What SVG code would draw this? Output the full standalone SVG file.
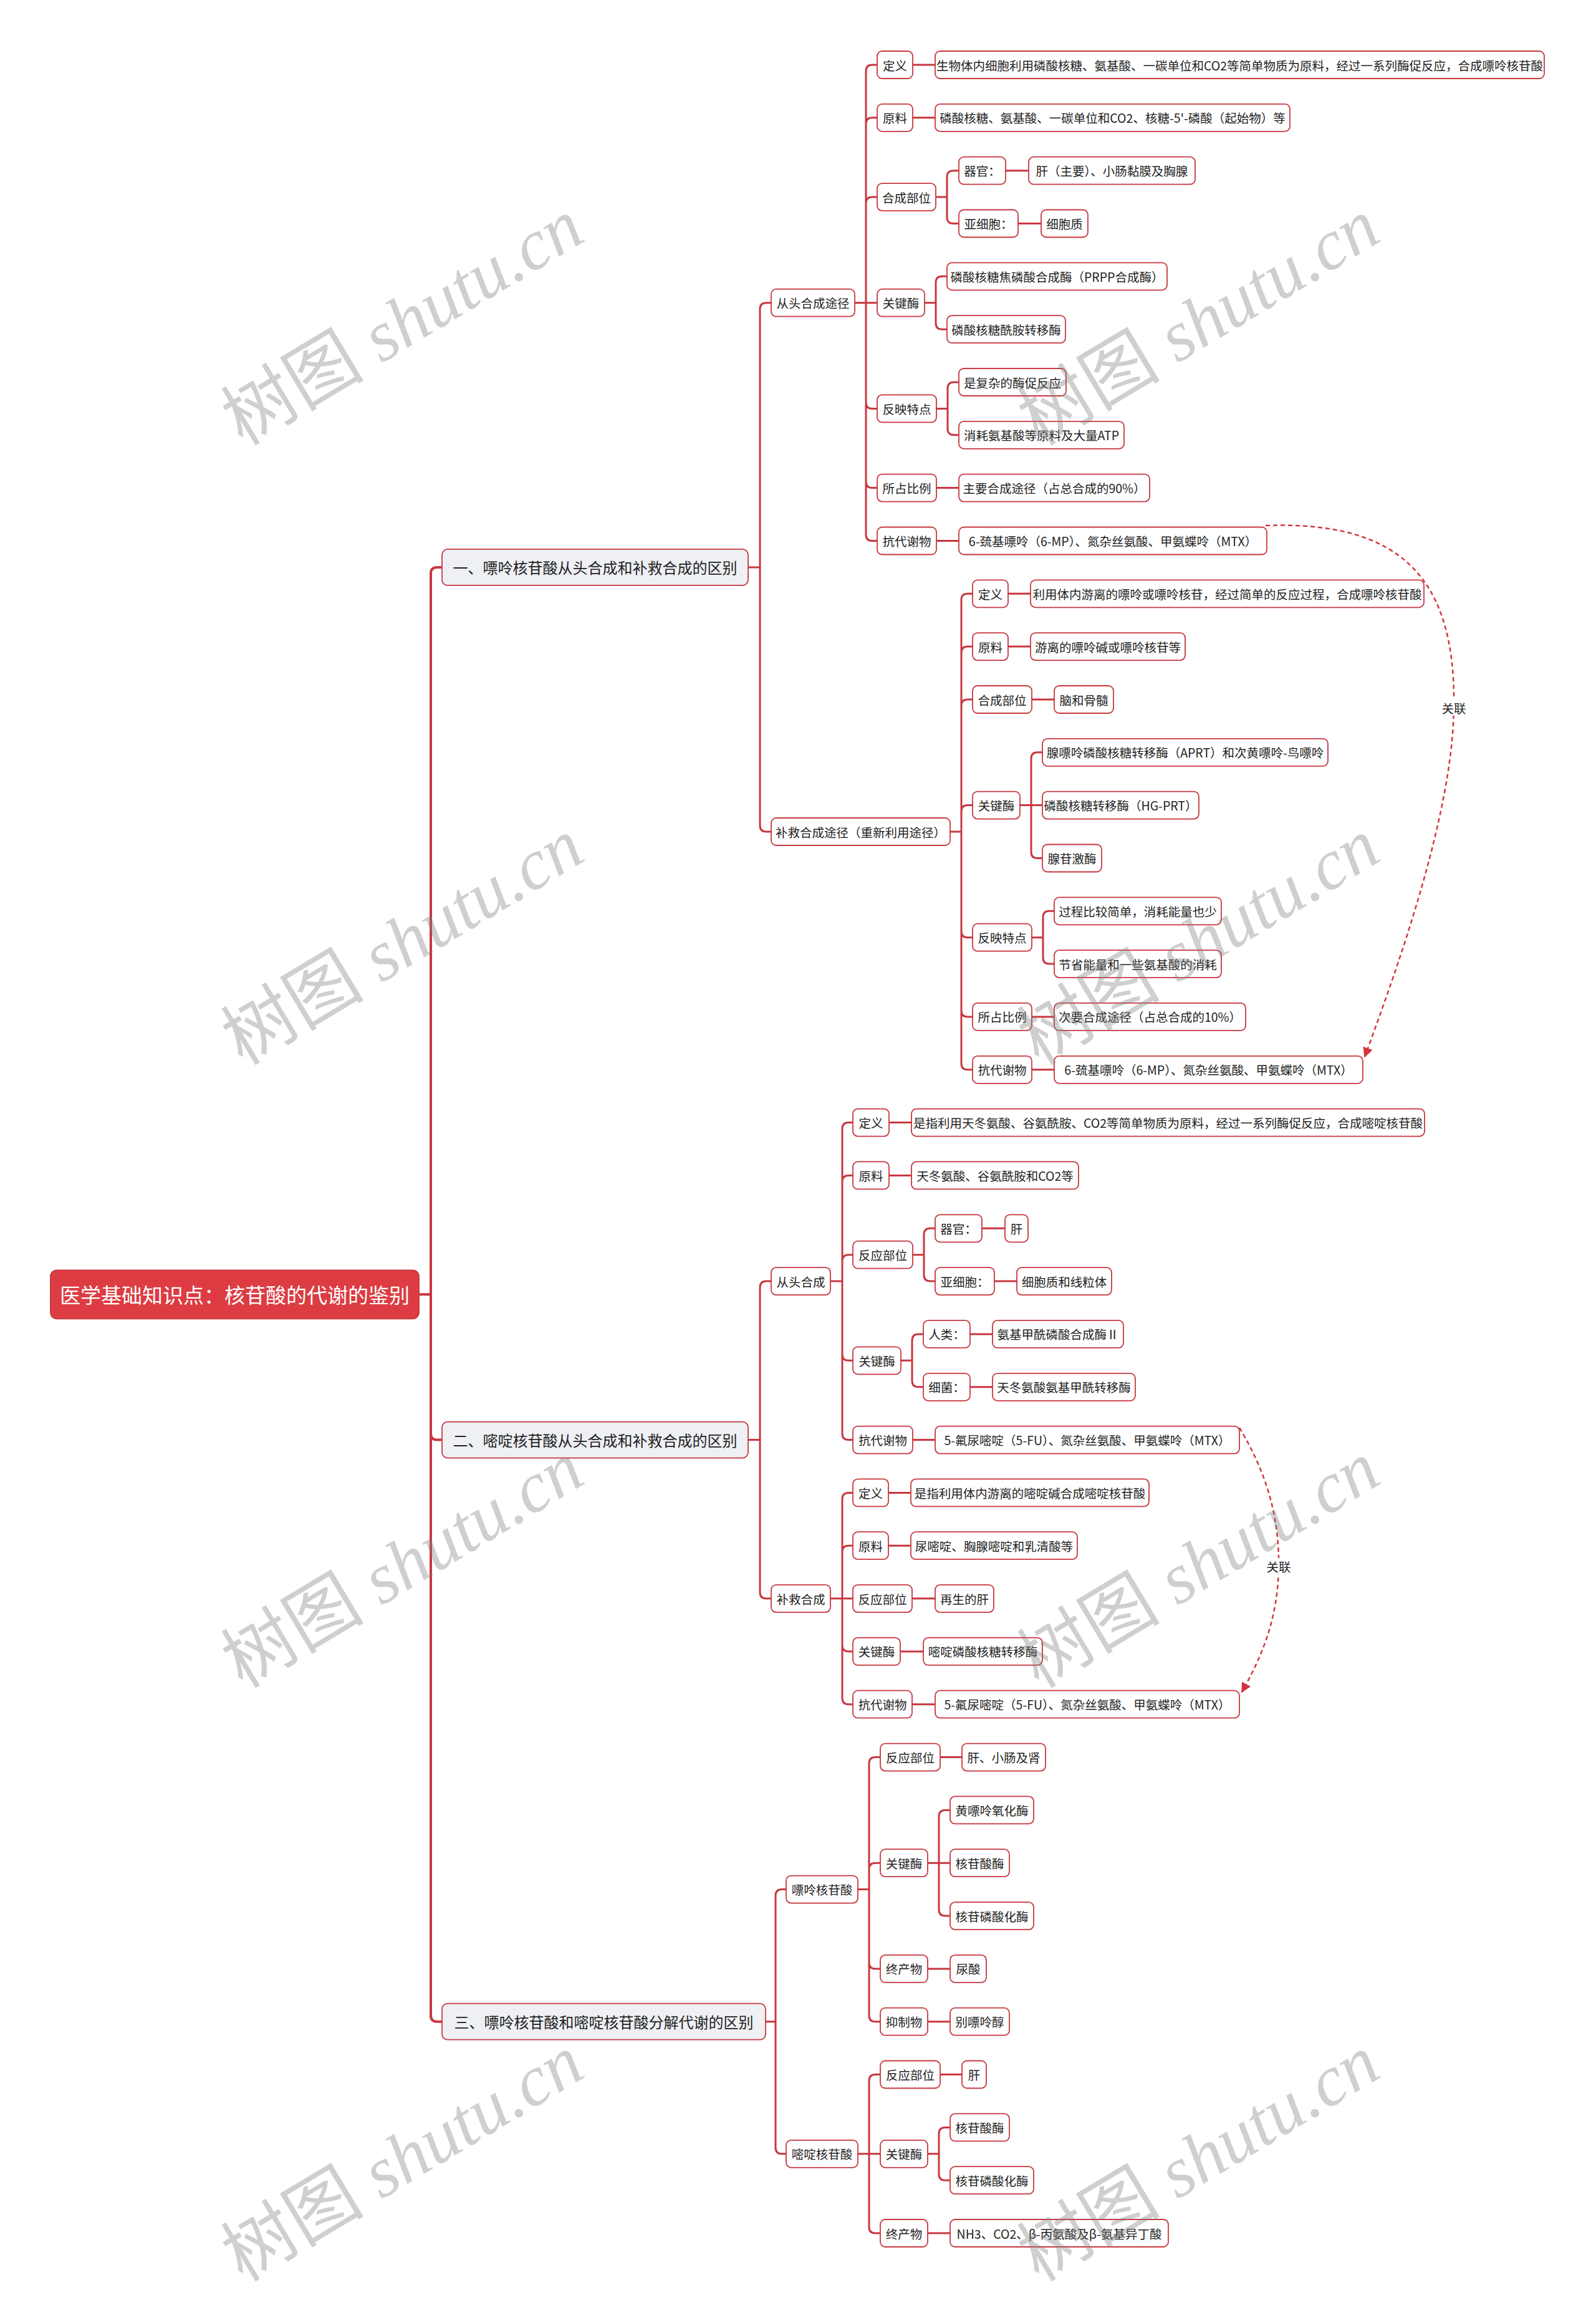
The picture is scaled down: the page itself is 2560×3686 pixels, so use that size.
<svg xmlns="http://www.w3.org/2000/svg" width="2560" height="3686" viewBox="0 0 2560 3686">
<style>
.n rect{fill:#ffffff;stroke:#c8373f;stroke-width:1.8}
.n text{font-family:"Noto Sans CJK SC","Noto Sans",sans-serif;font-size:19.5px;fill:#222;text-anchor:middle;dominant-baseline:central}
.l1 rect{fill:#eef0f4}
.l1 text{font-size:24px}
.root rect{fill:#dc3c42;stroke:#c8373f}
.root text{fill:#ffffff;font-size:33px}
.c{fill:none;stroke:#c8373f;stroke-width:3;stroke-linecap:round}
.c0{stroke-width:4}
.rel{fill:none;stroke:#d2353c;stroke-width:2.5;stroke-dasharray:7 5}
.rl{font-family:"Noto Sans CJK SC",sans-serif;font-size:19.5px;fill:#222;text-anchor:middle;dominant-baseline:central}
.wm{font-family:"Liberation Serif","Noto Sans CJK SC",serif;font-size:115px;fill:#808080;fill-opacity:0.38;text-anchor:middle;dominant-baseline:central}
</style>
<defs>
<marker id="arr" viewBox="0 0 10 10" refX="9" refY="5" markerUnits="userSpaceOnUse" markerWidth="18" markerHeight="16" orient="auto">
<path d="M0,0 L10,5 L0,10 z" fill="#d2353c"/>
</marker>
</defs>
<rect width="2560" height="3686" fill="#ffffff"/>
<g id="connectors">
<path class="c c0" d="M672 2076.3 H691 M691 2076.3 V919.9 Q691 909.9 701 909.9 H709 M691 2076.3 V2299.6 Q691 2309.6 701 2309.6 H709 M691 2076.3 V3232.7 Q691 3242.7 701 3242.7 H709"/>
<path class="c" d="M1200 909.9 H1219 M1219 909.9 V495.7 Q1219 485.7 1229 485.7 H1237 M1219 909.9 V1324 Q1219 1334 1229 1334 H1237"/>
<path class="c" d="M1371 485.7 H1407 M1389 485.7 V114 Q1389 104 1399 104 H1407 M1389 485.7 V198.8 Q1389 188.8 1399 188.8 H1407 M1389 485.7 V326.1 Q1389 316.1 1399 316.1 H1407 M1389 485.7 V645.4 Q1389 655.4 1399 655.4 H1407 M1389 485.7 V772.6 Q1389 782.6 1399 782.6 H1407 M1389 485.7 V857.5 Q1389 867.5 1399 867.5 H1407"/>
<path class="c" d="M1464 104 H1500 M1464 188.8 H1500 M1501 316.1 H1519 M1519 316.1 V283.7 Q1519 273.7 1529 273.7 H1538 M1519 316.1 V348.5 Q1519 358.5 1529 358.5 H1538 M1613 273.7 H1650 M1633 358.5 H1670 M1483 485.7 H1501 M1501 485.7 V453.3 Q1501 443.3 1511 443.3 H1519 M1501 485.7 V518.2 Q1501 528.2 1511 528.2 H1519 M1502 655.4 H1520 M1520 655.4 V623 Q1520 613 1530 613 H1538 M1520 655.4 V687.8 Q1520 697.8 1530 697.8 H1538 M1502 782.6 H1538 M1502 867.5 H1538"/>
<path class="c" d="M1524 1334 H1542 M1542 1334 V962.3 Q1542 952.3 1552 952.3 H1560 M1542 1334 V1047.1 Q1542 1037.1 1552 1037.1 H1560 M1542 1334 V1132 Q1542 1122 1552 1122 H1560 M1542 1334 V1301.6 Q1542 1291.6 1552 1291.6 H1560 M1542 1334 V1493.7 Q1542 1503.7 1552 1503.7 H1560 M1542 1334 V1620.9 Q1542 1630.9 1552 1630.9 H1560 M1542 1334 V1705.8 Q1542 1715.8 1552 1715.8 H1560"/>
<path class="c" d="M1617 952.3 H1653 M1617 1037.1 H1653 M1655 1122 H1691 M1636 1291.6 H1672 M1654 1291.6 V1216.8 Q1654 1206.8 1664 1206.8 H1672 M1654 1291.6 V1366.5 Q1654 1376.5 1664 1376.5 H1672 M1655 1503.7 H1673 M1673 1503.7 V1471.3 Q1673 1461.3 1683 1461.3 H1691 M1673 1503.7 V1536.1 Q1673 1546.1 1683 1546.1 H1691 M1655 1630.9 H1691 M1655 1715.8 H1691"/>
<path class="c" d="M1200 2309.6 H1219 M1219 2309.6 V2065.1 Q1219 2055.1 1229 2055.1 H1237 M1219 2309.6 V2554.1 Q1219 2564.1 1229 2564.1 H1237"/>
<path class="c" d="M1332 2055.1 H1351 M1351 2055.1 V1810.6 Q1351 1800.6 1361 1800.6 H1368 M1351 2055.1 V1895.4 Q1351 1885.4 1361 1885.4 H1368 M1351 2055.1 V2022.7 Q1351 2012.7 1361 2012.7 H1368 M1351 2055.1 V2172.3 Q1351 2182.3 1361 2182.3 H1368 M1351 2055.1 V2299.6 Q1351 2309.6 1361 2309.6 H1368"/>
<path class="c" d="M1426 1800.6 H1462 M1426 1885.4 H1462 M1464 2012.7 H1482 M1482 2012.7 V1980.3 Q1482 1970.3 1492 1970.3 H1500 M1482 2012.7 V2045.1 Q1482 2055.1 1492 2055.1 H1500 M1575 1970.3 H1612 M1595 2055.1 H1631 M1445 2182.3 H1463 M1463 2182.3 V2149.9 Q1463 2139.9 1473 2139.9 H1481 M1463 2182.3 V2214.8 Q1463 2224.8 1473 2224.8 H1481 M1556 2139.9 H1592 M1556 2224.8 H1592 M1464 2309.6 H1500"/>
<path class="c" d="M1332 2564.1 H1368 M1351 2564.1 V2404.4 Q1351 2394.4 1361 2394.4 H1368 M1351 2564.1 V2489.2 Q1351 2479.2 1361 2479.2 H1368 M1351 2564.1 V2638.9 Q1351 2648.9 1361 2648.9 H1368 M1351 2564.1 V2723.7 Q1351 2733.7 1361 2733.7 H1368 M1425 2394.4 H1461 M1425 2479.2 H1461 M1463 2564.1 H1500 M1444 2648.9 H1481 M1463 2733.7 H1500"/>
<path class="c" d="M1228 3242.7 H1244 M1244 3242.7 V3040.6 Q1244 3030.6 1254 3030.6 H1261 M1244 3242.7 V3444.8 Q1244 3454.8 1254 3454.8 H1261"/>
<path class="c" d="M1376 3030.6 H1394 M1394 3030.6 V2828.6 Q1394 2818.6 1404 2818.6 H1412 M1394 3030.6 V2998.2 Q1394 2988.2 1404 2988.2 H1412 M1394 3030.6 V3147.9 Q1394 3157.9 1404 3157.9 H1412 M1394 3030.6 V3232.7 Q1394 3242.7 1404 3242.7 H1412 M1508 2818.6 H1543 M1488 2988.2 H1524 M1506 2988.2 V2913.4 Q1506 2903.4 1516 2903.4 H1524 M1506 2988.2 V3063.1 Q1506 3073.1 1516 3073.1 H1524 M1488 3157.9 H1524 M1488 3242.7 H1524"/>
<path class="c" d="M1376 3454.8 H1412 M1394 3454.8 V3337.5 Q1394 3327.5 1404 3327.5 H1412 M1394 3454.8 V3572 Q1394 3582 1404 3582 H1412 M1508 3327.5 H1543 M1488 3454.8 H1506 M1506 3454.8 V3422.4 Q1506 3412.4 1516 3412.4 H1524 M1506 3454.8 V3487.2 Q1506 3497.2 1516 3497.2 H1524 M1488 3582 H1524"/>
</g>
<g id="root" class="n root"><rect x="81" y="2037.3" width="591" height="78" rx="10"/><text x="376.5" y="2076.3">医学基础知识点：核苷酸的代谢的鉴别</text></g>
<g id="L1a" class="n l1"><rect x="709" y="880.9" width="491" height="58" rx="9"/><text x="954.5" y="909.9">一、嘌呤核苷酸从头合成和补救合成的区别</text></g>
<g id="L1b" class="n l1"><rect x="709" y="2280.6" width="491" height="58" rx="9"/><text x="954.5" y="2309.6">二、嘧啶核苷酸从头合成和补救合成的区别</text></g>
<g id="L1c" class="n l1"><rect x="709" y="3213.7" width="519" height="58" rx="9"/><text x="968.5" y="3242.7">三、嘌呤核苷酸和嘧啶核苷酸分解代谢的区别</text></g>
<g id="A1" class="n"><rect x="1237" y="463.7" width="134" height="44" rx="8"/><text x="1304" y="485.7">从头合成途径</text></g>
<g id="A2" class="n"><rect x="1237" y="1312" width="287" height="44" rx="8"/><text x="1380.5" y="1334">补救合成途径（重新利用途径）</text></g>
<g id="a1" class="n"><rect x="1407" y="82" width="57" height="44" rx="8"/><text x="1435.5" y="104">定义</text></g>
<g id="a1v" class="n"><rect x="1500" y="82" width="977" height="44" rx="8"/><text x="1988.5" y="104">生物体内细胞利用磷酸核糖、氨基酸、一碳单位和CO2等简单物质为原料，经过一系列酶促反应，合成嘌呤核苷酸</text></g>
<g id="a2" class="n"><rect x="1407" y="166.8" width="57" height="44" rx="8"/><text x="1435.5" y="188.8">原料</text></g>
<g id="a2v" class="n"><rect x="1500" y="166.8" width="569" height="44" rx="8"/><text x="1784.5" y="188.8">磷酸核糖、氨基酸、一碳单位和CO2、核糖-5'-磷酸（起始物）等</text></g>
<g id="a3" class="n"><rect x="1407" y="294.1" width="94" height="44" rx="8"/><text x="1454" y="316.1">合成部位</text></g>
<g id="a3a" class="n"><rect x="1538" y="251.7" width="75" height="44" rx="8"/><text x="1575.5" y="273.7">器官：</text></g>
<g id="a3av" class="n"><rect x="1650" y="251.7" width="267" height="44" rx="8"/><text x="1783.5" y="273.7">肝（主要）、小肠黏膜及胸腺</text></g>
<g id="a3b" class="n"><rect x="1538" y="336.5" width="95" height="44" rx="8"/><text x="1585.5" y="358.5">亚细胞：</text></g>
<g id="a3bv" class="n"><rect x="1670" y="336.5" width="75" height="44" rx="8"/><text x="1707.5" y="358.5">细胞质</text></g>
<g id="a4" class="n"><rect x="1407" y="463.7" width="76" height="44" rx="8"/><text x="1445" y="485.7">关键酶</text></g>
<g id="a4a" class="n"><rect x="1519" y="421.3" width="353" height="44" rx="8"/><text x="1695.5" y="443.3">磷酸核糖焦磷酸合成酶（PRPP合成酶）</text></g>
<g id="a4b" class="n"><rect x="1519" y="506.2" width="190" height="44" rx="8"/><text x="1614" y="528.2">磷酸核糖酰胺转移酶</text></g>
<g id="a5" class="n"><rect x="1407" y="633.4" width="95" height="44" rx="8"/><text x="1454.5" y="655.4">反映特点</text></g>
<g id="a5a" class="n"><rect x="1538" y="591" width="172" height="44" rx="8"/><text x="1624" y="613">是复杂的酶促反应</text></g>
<g id="a5b" class="n"><rect x="1538" y="675.8" width="265" height="44" rx="8"/><text x="1670.5" y="697.8">消耗氨基酸等原料及大量ATP</text></g>
<g id="a6" class="n"><rect x="1407" y="760.6" width="95" height="44" rx="8"/><text x="1454.5" y="782.6">所占比例</text></g>
<g id="a6v" class="n"><rect x="1538" y="760.6" width="306" height="44" rx="8"/><text x="1691" y="782.6">主要合成途径（占总合成的90%）</text></g>
<g id="a7" class="n"><rect x="1407" y="845.5" width="95" height="44" rx="8"/><text x="1454.5" y="867.5">抗代谢物</text></g>
<g id="a7v" class="n"><rect x="1538" y="845.5" width="494" height="44" rx="8"/><text x="1785" y="867.5">6-巯基嘌呤（6-MP）、氮杂丝氨酸、甲氨蝶呤（MTX）</text></g>
<g id="b1" class="n"><rect x="1560" y="930.3" width="57" height="44" rx="8"/><text x="1588.5" y="952.3">定义</text></g>
<g id="b1v" class="n"><rect x="1653" y="930.3" width="631" height="44" rx="8"/><text x="1968.5" y="952.3">利用体内游离的嘌呤或嘌呤核苷，经过简单的反应过程，合成嘌呤核苷酸</text></g>
<g id="b2" class="n"><rect x="1560" y="1015.1" width="57" height="44" rx="8"/><text x="1588.5" y="1037.1">原料</text></g>
<g id="b2v" class="n"><rect x="1653" y="1015.1" width="248" height="44" rx="8"/><text x="1777" y="1037.1">游离的嘌呤碱或嘌呤核苷等</text></g>
<g id="b3" class="n"><rect x="1560" y="1100" width="95" height="44" rx="8"/><text x="1607.5" y="1122">合成部位</text></g>
<g id="b3v" class="n"><rect x="1691" y="1100" width="95" height="44" rx="8"/><text x="1738.5" y="1122">脑和骨髓</text></g>
<g id="b4" class="n"><rect x="1560" y="1269.6" width="76" height="44" rx="8"/><text x="1598" y="1291.6">关键酶</text></g>
<g id="b4a" class="n"><rect x="1672" y="1184.8" width="458" height="44" rx="8"/><text x="1901" y="1206.8">腺嘌呤磷酸核糖转移酶（APRT）和次黄嘌呤-鸟嘌呤</text></g>
<g id="b4b" class="n"><rect x="1672" y="1269.6" width="251" height="44" rx="8"/><text x="1797.5" y="1291.6">磷酸核糖转移酶（HG-PRT）</text></g>
<g id="b4c" class="n"><rect x="1672" y="1354.5" width="95" height="44" rx="8"/><text x="1719.5" y="1376.5">腺苷激酶</text></g>
<g id="b5" class="n"><rect x="1560" y="1481.7" width="95" height="44" rx="8"/><text x="1607.5" y="1503.7">反映特点</text></g>
<g id="b5a" class="n"><rect x="1691" y="1439.3" width="268" height="44" rx="8"/><text x="1825" y="1461.3">过程比较简单，消耗能量也少</text></g>
<g id="b5b" class="n"><rect x="1691" y="1524.1" width="268" height="44" rx="8"/><text x="1825" y="1546.1">节省能量和一些氨基酸的消耗</text></g>
<g id="b6" class="n"><rect x="1560" y="1608.9" width="95" height="44" rx="8"/><text x="1607.5" y="1630.9">所占比例</text></g>
<g id="b6v" class="n"><rect x="1691" y="1608.9" width="307" height="44" rx="8"/><text x="1844.5" y="1630.9">次要合成途径（占总合成的10%）</text></g>
<g id="b7" class="n"><rect x="1560" y="1693.8" width="95" height="44" rx="8"/><text x="1607.5" y="1715.8">抗代谢物</text></g>
<g id="b7v" class="n"><rect x="1691" y="1693.8" width="495" height="44" rx="8"/><text x="1938.5" y="1715.8">6-巯基嘌呤（6-MP）、氮杂丝氨酸、甲氨蝶呤（MTX）</text></g>
<g id="B1" class="n"><rect x="1237" y="2033.1" width="95" height="44" rx="8"/><text x="1284.5" y="2055.1">从头合成</text></g>
<g id="c1" class="n"><rect x="1368" y="1778.6" width="58" height="44" rx="8"/><text x="1397" y="1800.6">定义</text></g>
<g id="c1v" class="n"><rect x="1462" y="1778.6" width="823" height="44" rx="8"/><text x="1873.5" y="1800.6">是指利用天冬氨酸、谷氨酰胺、CO2等简单物质为原料，经过一系列酶促反应，合成嘧啶核苷酸</text></g>
<g id="c2" class="n"><rect x="1368" y="1863.4" width="58" height="44" rx="8"/><text x="1397" y="1885.4">原料</text></g>
<g id="c2v" class="n"><rect x="1462" y="1863.4" width="268" height="44" rx="8"/><text x="1596" y="1885.4">天冬氨酸、谷氨酰胺和CO2等</text></g>
<g id="c3" class="n"><rect x="1368" y="1990.7" width="96" height="44" rx="8"/><text x="1416" y="2012.7">反应部位</text></g>
<g id="c3a" class="n"><rect x="1500" y="1948.3" width="75" height="44" rx="8"/><text x="1537.5" y="1970.3">器官：</text></g>
<g id="c3av" class="n"><rect x="1612" y="1948.3" width="37" height="44" rx="8"/><text x="1630.5" y="1970.3">肝</text></g>
<g id="c3b" class="n"><rect x="1500" y="2033.1" width="95" height="44" rx="8"/><text x="1547.5" y="2055.1">亚细胞：</text></g>
<g id="c3bv" class="n"><rect x="1631" y="2033.1" width="152" height="44" rx="8"/><text x="1707" y="2055.1">细胞质和线粒体</text></g>
<g id="c4" class="n"><rect x="1368" y="2160.3" width="77" height="44" rx="8"/><text x="1406.5" y="2182.3">关键酶</text></g>
<g id="c4a" class="n"><rect x="1481" y="2117.9" width="75" height="44" rx="8"/><text x="1518.5" y="2139.9">人类：</text></g>
<g id="c4av" class="n"><rect x="1592" y="2117.9" width="210" height="44" rx="8"/><text x="1697" y="2139.9">氨基甲酰磷酸合成酶Ⅱ</text></g>
<g id="c4b" class="n"><rect x="1481" y="2202.8" width="75" height="44" rx="8"/><text x="1518.5" y="2224.8">细菌：</text></g>
<g id="c4bv" class="n"><rect x="1592" y="2202.8" width="229" height="44" rx="8"/><text x="1706.5" y="2224.8">天冬氨酸氨基甲酰转移酶</text></g>
<g id="c5" class="n"><rect x="1368" y="2287.6" width="96" height="44" rx="8"/><text x="1416" y="2309.6">抗代谢物</text></g>
<g id="c5v" class="n"><rect x="1500" y="2287.6" width="488" height="44" rx="8"/><text x="1744" y="2309.6">5-氟尿嘧啶（5-FU）、氮杂丝氨酸、甲氨蝶呤（MTX）</text></g>
<g id="B2" class="n"><rect x="1237" y="2542.1" width="95" height="44" rx="8"/><text x="1284.5" y="2564.1">补救合成</text></g>
<g id="d1" class="n"><rect x="1368" y="2372.4" width="57" height="44" rx="8"/><text x="1396.5" y="2394.4">定义</text></g>
<g id="d1v" class="n"><rect x="1461" y="2372.4" width="382" height="44" rx="8"/><text x="1652" y="2394.4">是指利用体内游离的嘧啶碱合成嘧啶核苷酸</text></g>
<g id="d2" class="n"><rect x="1368" y="2457.2" width="57" height="44" rx="8"/><text x="1396.5" y="2479.2">原料</text></g>
<g id="d2v" class="n"><rect x="1461" y="2457.2" width="267" height="44" rx="8"/><text x="1594.5" y="2479.2">尿嘧啶、胸腺嘧啶和乳清酸等</text></g>
<g id="d3" class="n"><rect x="1368" y="2542.1" width="95" height="44" rx="8"/><text x="1415.5" y="2564.1">反应部位</text></g>
<g id="d3v" class="n"><rect x="1500" y="2542.1" width="94" height="44" rx="8"/><text x="1547" y="2564.1">再生的肝</text></g>
<g id="d4" class="n"><rect x="1368" y="2626.9" width="76" height="44" rx="8"/><text x="1406" y="2648.9">关键酶</text></g>
<g id="d4v" class="n"><rect x="1481" y="2626.9" width="191" height="44" rx="8"/><text x="1576.5" y="2648.9">嘧啶磷酸核糖转移酶</text></g>
<g id="d5" class="n"><rect x="1368" y="2711.7" width="95" height="44" rx="8"/><text x="1415.5" y="2733.7">抗代谢物</text></g>
<g id="d5v" class="n"><rect x="1500" y="2711.7" width="488" height="44" rx="8"/><text x="1744" y="2733.7">5-氟尿嘧啶（5-FU）、氮杂丝氨酸、甲氨蝶呤（MTX）</text></g>
<g id="C1" class="n"><rect x="1261" y="3008.6" width="115" height="44" rx="8"/><text x="1318.5" y="3030.6">嘌呤核苷酸</text></g>
<g id="e1" class="n"><rect x="1412" y="2796.6" width="96" height="44" rx="8"/><text x="1460" y="2818.6">反应部位</text></g>
<g id="e1v" class="n"><rect x="1543" y="2796.6" width="134" height="44" rx="8"/><text x="1610" y="2818.6">肝、小肠及肾</text></g>
<g id="e2" class="n"><rect x="1412" y="2966.2" width="76" height="44" rx="8"/><text x="1450" y="2988.2">关键酶</text></g>
<g id="e2a" class="n"><rect x="1524" y="2881.4" width="134" height="44" rx="8"/><text x="1591" y="2903.4">黄嘌呤氧化酶</text></g>
<g id="e2b" class="n"><rect x="1524" y="2966.2" width="95" height="44" rx="8"/><text x="1571.5" y="2988.2">核苷酸酶</text></g>
<g id="e2c" class="n"><rect x="1524" y="3051.1" width="134" height="44" rx="8"/><text x="1591" y="3073.1">核苷磷酸化酶</text></g>
<g id="e3" class="n"><rect x="1412" y="3135.9" width="76" height="44" rx="8"/><text x="1450" y="3157.9">终产物</text></g>
<g id="e3v" class="n"><rect x="1524" y="3135.9" width="58" height="44" rx="8"/><text x="1553" y="3157.9">尿酸</text></g>
<g id="e4" class="n"><rect x="1412" y="3220.7" width="76" height="44" rx="8"/><text x="1450" y="3242.7">抑制物</text></g>
<g id="e4v" class="n"><rect x="1524" y="3220.7" width="95" height="44" rx="8"/><text x="1571.5" y="3242.7">别嘌呤醇</text></g>
<g id="C2" class="n"><rect x="1261" y="3432.8" width="115" height="44" rx="8"/><text x="1318.5" y="3454.8">嘧啶核苷酸</text></g>
<g id="f1" class="n"><rect x="1412" y="3305.5" width="96" height="44" rx="8"/><text x="1460" y="3327.5">反应部位</text></g>
<g id="f1v" class="n"><rect x="1543" y="3305.5" width="39" height="44" rx="8"/><text x="1562.5" y="3327.5">肝</text></g>
<g id="f2" class="n"><rect x="1412" y="3432.8" width="76" height="44" rx="8"/><text x="1450" y="3454.8">关键酶</text></g>
<g id="f2a" class="n"><rect x="1524" y="3390.4" width="95" height="44" rx="8"/><text x="1571.5" y="3412.4">核苷酸酶</text></g>
<g id="f2b" class="n"><rect x="1524" y="3475.2" width="134" height="44" rx="8"/><text x="1591" y="3497.2">核苷磷酸化酶</text></g>
<g id="f3" class="n"><rect x="1412" y="3560" width="76" height="44" rx="8"/><text x="1450" y="3582">终产物</text></g>
<g id="f3v" class="n"><rect x="1524" y="3560" width="350" height="44" rx="8"/><text x="1699" y="3582">NH3、CO2、β-丙氨酸及β-氨基异丁酸</text></g>
<g id="relations">
<path class="rel" d="M2030 843 C2250 835 2335 930 2332 1135 C2330 1300 2250 1530 2189 1695" marker-end="url(#arr)"/>
<rect x="2309" y="1122" width="46" height="26" fill="#ffffff"/>
<text class="rl" x="2332" y="1135">关联</text>
<path class="rel" d="M1988 2290 C2030 2360 2052 2430 2051 2512 C2050 2600 2022 2660 1992 2714" marker-end="url(#arr)"/>
<rect x="2028" y="2499" width="46" height="26" fill="#ffffff"/>
<text class="rl" x="2051" y="2512">关联</text>
</g>
<g id="watermarks">
<text class="wm" transform="translate(646 517) rotate(-31)">树图 <tspan font-style="italic">shutu.cn</tspan></text>
<text class="wm" transform="translate(1923 517) rotate(-31)">树图 <tspan font-style="italic">shutu.cn</tspan></text>
<text class="wm" transform="translate(646 1511) rotate(-31)">树图 <tspan font-style="italic">shutu.cn</tspan></text>
<text class="wm" transform="translate(1923 1511) rotate(-31)">树图 <tspan font-style="italic">shutu.cn</tspan></text>
<text class="wm" transform="translate(646 2510) rotate(-31)">树图 <tspan font-style="italic">shutu.cn</tspan></text>
<text class="wm" transform="translate(1923 2510) rotate(-31)">树图 <tspan font-style="italic">shutu.cn</tspan></text>
<text class="wm" transform="translate(646 3462) rotate(-31)">树图 <tspan font-style="italic">shutu.cn</tspan></text>
<text class="wm" transform="translate(1923 3462) rotate(-31)">树图 <tspan font-style="italic">shutu.cn</tspan></text>
</g>
</svg>
